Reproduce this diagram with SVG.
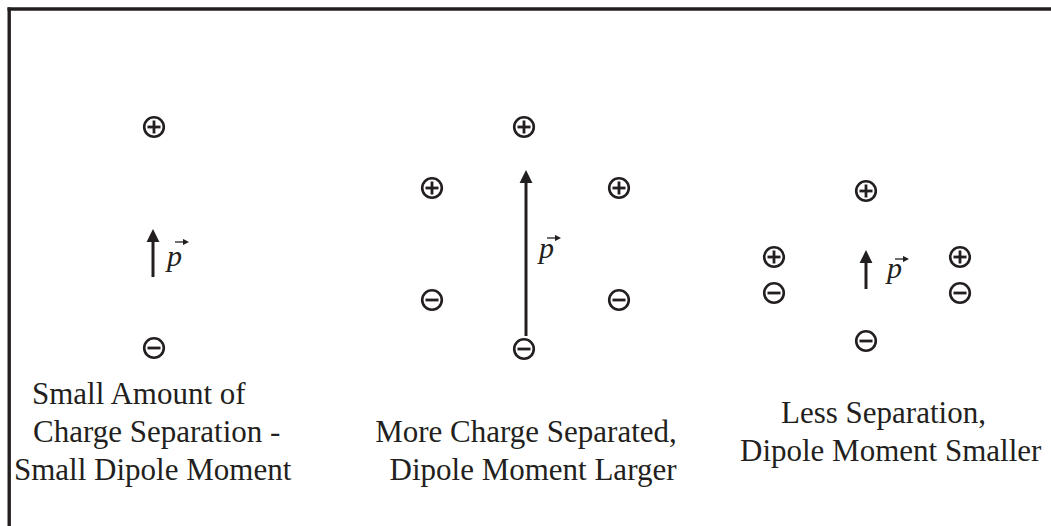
<svg xmlns="http://www.w3.org/2000/svg" width="1051" height="526" viewBox="0 0 1051 526">
<style>
.ring{fill:none;stroke:#231f20;stroke-width:2.6}
.bar{stroke:#231f20;stroke-width:2.8;stroke-linecap:butt}
.shaft{stroke:#231f20;stroke-width:3;fill:none}
.lbl{font-family:"Liberation Serif","Times New Roman",serif;font-size:31px;fill:#231f20}
.pv{font-family:"Liberation Serif","Times New Roman",serif;font-style:italic;font-size:30px;fill:#231f20}
.vec{stroke:#231f20;stroke-width:1.3;fill:none}
</style>
<defs>
<g id="plus"><circle class="ring" r="9.8"/><line class="bar" x1="-6.5" y1="0" x2="6.5" y2="0"/><line class="bar" x1="0" y1="-6.5" x2="0" y2="6.5"/></g>
<g id="minus"><circle class="ring" r="9.8"/><line class="bar" x1="-6.5" y1="0" x2="6.5" y2="0"/></g>
<marker id="head" viewBox="0 0 10 10" refX="0" refY="5" markerWidth="4.3" markerHeight="5.3" orient="auto" markerUnits="strokeWidth"><path d="M0,0 L10,5 L0,10 z" fill="#231f20"/></marker>
<marker id="small" viewBox="0 0 10 10" refX="2" refY="5" markerWidth="5" markerHeight="5" orient="auto" markerUnits="strokeWidth"><path d="M0,0 L10,5 L0,10 z" fill="#231f20"/></marker>
</defs>
<rect width="1051" height="526" fill="#fff"/>
<g id="frame">
<line x1="7.5" y1="9" x2="1051" y2="9" stroke="#231f20" stroke-width="3.4"/>
<line x1="9.2" y1="7.5" x2="9.2" y2="526" stroke="#231f20" stroke-width="3.4"/>
</g>
<g id="panel1">
<use href="#plus" x="154" y="127"/>
<use href="#minus" x="154" y="348"/>
</g>
<g id="panel2">
<use href="#plus" x="524" y="127"/>
<use href="#plus" x="432" y="188"/>
<use href="#plus" x="619" y="188"/>
<use href="#minus" x="432" y="300"/>
<use href="#minus" x="619" y="300"/>
<use href="#minus" x="524" y="349"/>
</g>
<g id="panel3">
<use href="#plus" x="866" y="191"/>
<use href="#plus" x="774" y="257"/>
<use href="#plus" x="960" y="257"/>
<use href="#minus" x="774" y="293"/>
<use href="#minus" x="960" y="293"/>
<use href="#minus" x="866" y="341"/>
</g>
<g id="connectors">
<line class="shaft" x1="153" y1="277" x2="153" y2="242" marker-end="url(#head)"/>
<line class="shaft" x1="526" y1="336" x2="526" y2="183" marker-end="url(#head)"/>
<line class="shaft" x1="866" y1="289" x2="866" y2="263" marker-end="url(#head)"/>
</g>
<g id="vectors">
<text class="pv" x="167" y="266">p</text>
<line class="vec" x1="175" y1="242" x2="184" y2="242" marker-end="url(#small)"/>
<text class="pv" x="539" y="258">p</text>
<line class="vec" x1="547" y1="238" x2="556" y2="238" marker-end="url(#small)"/>
<text class="pv" x="887" y="278">p</text>
<line class="vec" x1="895" y1="259" x2="904" y2="259" marker-end="url(#small)"/>
</g>
<g id="labels">
<text class="lbl" x="32" y="404">Small Amount of</text>
<text class="lbl" x="33" y="442">Charge Separation -</text>
<text class="lbl" x="14" y="480">Small Dipole Moment</text>
<text class="lbl" x="526" y="442" text-anchor="middle">More Charge Separated,</text>
<text class="lbl" x="533" y="480" text-anchor="middle">Dipole Moment Larger</text>
<text class="lbl" x="781" y="423">Less Separation,</text>
<text class="lbl" x="740" y="461">Dipole Moment Smaller</text>
</g>
</svg>
